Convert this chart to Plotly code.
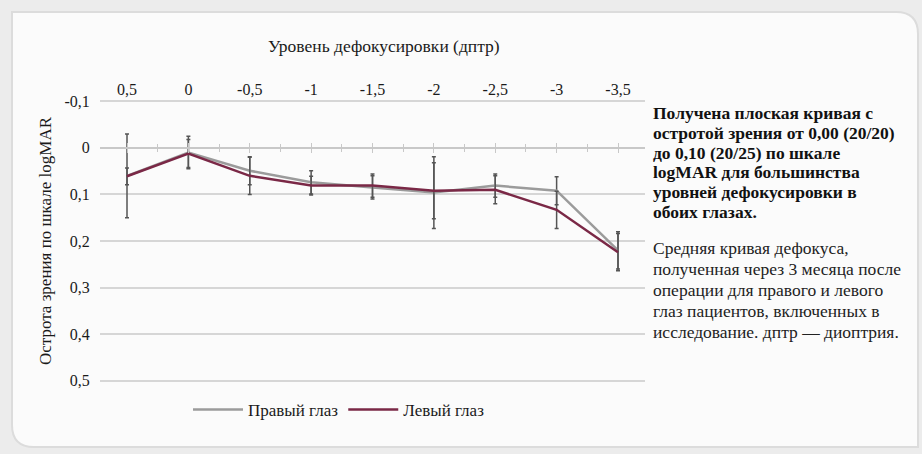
import plotly.graph_objects as go

# Defocus levels (diopters) and mean logMAR acuity per eye
defocus = [0.5, 0, -0.5, -1, -1.5, -2, -2.5, -3, -3.5]
defocus_labels = ["0,5", "0", "-0,5", "-1", "-1,5", "-2", "-2,5", "-3", "-3,5"]

right_eye = [0.060, 0.010, 0.049, 0.074, 0.085, 0.096, 0.081, 0.092, 0.220]
right_err = [0.090, 0.035, 0.030, 0.025, 0.025, 0.077, 0.025, 0.030, 0.040]

left_eye = [0.061, 0.012, 0.060, 0.081, 0.081, 0.092, 0.090, 0.133, 0.224]
left_err = [0.018, 0.030, 0.040, 0.020, 0.025, 0.060, 0.030, 0.040, 0.040]

y_ticks = [-0.1, 0, 0.1, 0.2, 0.3, 0.4, 0.5]
y_labels = ["-0,1", "0", "0,1", "0,2", "0,3", "0,4", "0,5"]

summary_lines = [
    "Получена плоская кривая с",
    "остротой зрения от 0,00 (20/20)",
    "до 0,10 (20/25) по шкале",
    "logMAR для большинства",
    "уровней дефокусировки в",
    "обоих глазах.",
]
caption_lines = [
    "Средняя кривая дефокуса,",
    "полученная через 3 месяца после",
    "операции для правого и левого",
    "глаз пациентов, включенных в",
    "исследование. дптр — диоптрия.",
]

FONT = "Liberation Serif"
GRAY = "#9b9b9b"
MAROON = "#7a2846"
ERR = "#555555"

W, H = 922, 454
ML, MR, MT, MB = 100, 277, 99, 71
PW, PH = W - ML - MR, H - MT - MB


def px_x(px):
    return (px - ML) / PW


def px_y(py):
    return (H - MB - py) / PH


fig = go.Figure()

fig.add_trace(go.Scatter(
    x=defocus, y=right_eye, mode="lines", name="Правый глаз",
    line=dict(color=GRAY, width=2.5),
    error_y=dict(type="data", array=right_err, color=ERR, thickness=1.5, width=2),
))
fig.add_trace(go.Scatter(
    x=defocus, y=left_eye, mode="lines", name="Левый глаз",
    line=dict(color=MAROON, width=2.5),
    error_y=dict(type="data", array=left_err, color=ERR, thickness=1.5, width=2),
))

# Tick-only axes crossing the zero line (ticks above and below the line)
y_range = [0.505, -0.105]
zero_pos = y_range[0] / (y_range[0] - y_range[1])
for name, side_ticks in (("xaxis2", "outside"), ("xaxis3", "inside")):
    fig.update_layout({name: dict(
        overlaying="x", anchor="free", position=zero_pos, side="bottom",
        range=[0.72, -3.72], showgrid=False, zeroline=False,
        showline=True, linecolor="#c8c8c8", linewidth=1.5,
        ticks=side_ticks, ticklen=4, tickcolor="#c8c8c8", tickwidth=1,
        tickmode="array", tickvals=defocus, showticklabels=False,
        minor=dict(ticks=side_ticks, ticklen=3, tickcolor="#c8c8c8", dtick=0.25, tick0=0.25),
    )})
fig.add_trace(go.Scatter(x=[None], y=[None], xaxis="x2", showlegend=False, hoverinfo="skip"))
fig.add_trace(go.Scatter(x=[None], y=[None], xaxis="x3", showlegend=False, hoverinfo="skip"))

fig.update_layout(
    width=W, height=H,
    margin=dict(l=ML, r=MR, t=MT, b=MB),
    paper_bgcolor="#ececec",
    plot_bgcolor="rgba(0,0,0,0)",
    font=dict(family=FONT, size=15, color="#1a1a1a"),
    showlegend=True,
    legend=dict(orientation="h", x=px_x(188), y=px_y(392), xanchor="left", yanchor="top",
                font=dict(family=FONT, size=17, color="#1a1a1a"),
                bgcolor="rgba(0,0,0,0)", itemwidth=50, tracegroupgap=0),
    xaxis=dict(
        side="top", range=[0.72, -3.72], showgrid=False, zeroline=False,
        showline=False, ticks="", tickmode="array",
        tickvals=defocus, ticktext=defocus_labels,
        tickfont=dict(family=FONT, size=16),
    ),
    yaxis=dict(
        range=y_range, tickmode="array", tickvals=y_ticks, ticktext=y_labels,
        showgrid=True, gridcolor="#d6d6d6", gridwidth=1.5, zeroline=False,
        showline=False, ticks="outside", ticklen=6, tickcolor="rgba(0,0,0,0)",
        tickfont=dict(family=FONT, size=16),
        title=dict(text="Острота зрения по шкале logMAR", font=dict(family=FONT, size=17), standoff=8),
    ),
    shapes=[dict(
        type="path", xref="paper", yref="paper", layer="below",
        path=(f"M {px_x(12)},{px_y(12)} L {px_x(896)},{px_y(12)} "
              f"Q {px_x(918)},{px_y(12)} {px_x(918)},{px_y(34)} L {px_x(918)},{px_y(447)} "
              f"L {px_x(34)},{px_y(447)} Q {px_x(12)},{px_y(447)} {px_x(12)},{px_y(425)} Z"),
        fillcolor="#fbfbfb", line=dict(color="#dcdcdc", width=2),
    )],
)

fig.add_annotation(xref="paper", yref="paper", x=px_x(384), y=px_y(46),
                   xanchor="center", yanchor="middle", showarrow=False,
                   text="Уровень дефокусировки (дптр)",
                   font=dict(family=FONT, size=17.5, color="#1a1a1a"))

for i, line in enumerate(summary_lines):
    fig.add_annotation(xref="paper", yref="paper", x=px_x(651), y=px_y(113 + 19.8 * i),
                       xanchor="left", yanchor="middle", showarrow=False,
                       text=f"<b>{line}</b>",
                       font=dict(family=FONT, size=17.5, color="#111111"))
for i, line in enumerate(caption_lines):
    fig.add_annotation(xref="paper", yref="paper", x=px_x(651), y=px_y(248 + 21 * i),
                       xanchor="left", yanchor="middle", showarrow=False,
                       text=line,
                       font=dict(family=FONT, size=17.5, color="#222222"))

fig.write_html("out.html")
